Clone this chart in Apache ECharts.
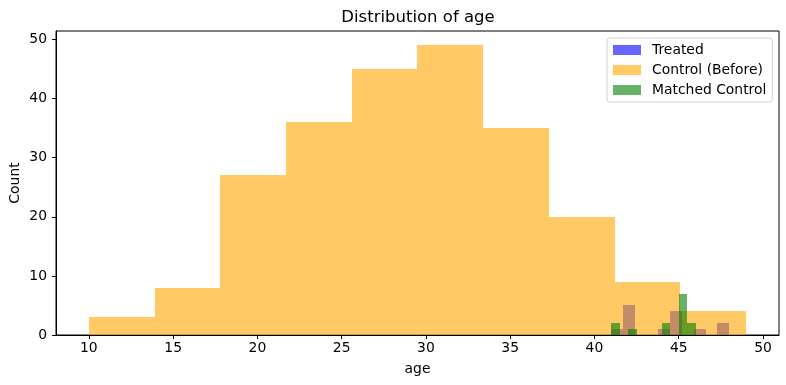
<!DOCTYPE html>
<html>
<head>
<meta charset="utf-8">
<script src="https://cdn.jsdelivr.net/npm/echarts@6/dist/echarts.min.js"></script>
<style>html,body{margin:0;padding:0;background:#fff}#c{width:786px;height:385px}</style>
</head>
<body>
<div id="c"></div>
<script>
const controlEdges = [10, 13.9, 17.8, 21.7, 25.6, 29.5, 33.4, 37.3, 41.2, 45.1, 49];
const controlCounts = [3, 8, 27, 36, 45, 49, 35, 20, 9, 4];
const treatedEdges = [41, 41.7, 42.4, 43.1, 43.8, 44.5, 45.2, 45.9, 46.6, 47.3, 48];
const treatedCounts = [1, 5, 0, 0, 1, 4, 0, 1, 0, 2];
const matchedEdges = [41, 41.5, 42, 42.5, 43, 43.5, 44, 44.5, 45, 45.5, 46];
const matchedCounts = [2, 0, 1, 0, 0, 0, 2, 0, 7, 2];
const xTicks = [10, 15, 20, 25, 30, 35, 40, 45, 50];
const yTicks = [0, 10, 20, 30, 40, 50];
const seriesNames = ['Treated', 'Control (Before)', 'Matched Control'];

function toBins(edges, counts) {
  return counts.map((c, i) => [edges[i], edges[i + 1], c]);
}
function renderItem(params, api) {
  const p0 = api.coord([api.value(0), api.value(2)]);
  const p1 = api.coord([api.value(1), 0]);
  const x0 = Math.round(p0[0]), x1 = Math.round(p1[0]);
  const y0 = Math.round(p0[1]), y1 = Math.round(p1[1]);
  return {
    type: 'rect',
    shape: { x: x0, y: y0, width: x1 - x0, height: y1 - y0 },
    style: { fill: api.visual('color') }
  };
}
const font = 'DejaVu Sans';
const chart = echarts.init(document.getElementById('c'));
chart.setOption({
  animation: false,
  backgroundColor: '#fff',
  title: {
    text: 'Distribution of age', left: 413, top: 4, textAlign: 'center',
    textStyle: { fontFamily: font, fontSize: 16.5, fontWeight: 'normal', color: '#000' }
  },
  grid: { left: 56, right: 7, top: 31, bottom: 50, show: true, borderColor: '#000', borderWidth: 1,
          backgroundColor: 'transparent', containLabel: false, outerBoundsMode: 'none' },
  legend: {
    orient: 'vertical', left: 607, top: 38,
    padding: [5, 6, 5, 6], itemGap: 6, itemWidth: 28, itemHeight: 10,
    backgroundColor: 'rgba(255,255,255,0.8)', borderColor: '#d0d0d0', borderWidth: 1, borderRadius: 3,
    textStyle: { fontFamily: font, fontSize: 13.9, color: '#000', padding: [0, 0, 0, 6] },
    data: seriesNames.map(n => ({ name: n, icon: 'rect' }))
  },
  xAxis: {
    type: 'value', min: 8.05, max: 50.95,
    name: 'age', nameLocation: 'middle', nameGap: 27, nameMoveOverlap: false,
    nameTextStyle: { fontFamily: font, fontSize: 13.9, color: '#000' },
    splitLine: { show: false },
    axisLine: { lineStyle: { color: '#000', width: 1 } },
    axisTick: { length: 4, lineStyle: { color: '#000' }, customValues: xTicks },
    axisLabel: { customValues: xTicks, margin: 6, fontFamily: font, fontSize: 13.9, color: '#000' }
  },
  yAxis: {
    type: 'value', min: 0, max: 51.45,
    name: 'Count', nameLocation: 'middle', nameGap: 34, nameMoveOverlap: false,
    nameTextStyle: { fontFamily: font, fontSize: 13.9, color: '#000' },
    splitLine: { show: false },
    axisLine: { show: true, lineStyle: { color: '#000', width: 1 } },
    axisTick: { show: true, length: 4, lineStyle: { color: '#000' }, customValues: yTicks },
    axisLabel: { customValues: yTicks, margin: 9, fontFamily: font, fontSize: 13.9, color: '#000' }
  },
  series: [
    { name: seriesNames[0], type: 'custom', renderItem, itemStyle: { color: 'rgba(0,0,255,0.6)' },
      encode: { x: [0, 1], y: 2 }, data: toBins(treatedEdges, treatedCounts) },
    { name: seriesNames[1], type: 'custom', renderItem, itemStyle: { color: 'rgba(255,165,0,0.6)' },
      encode: { x: [0, 1], y: 2 }, data: toBins(controlEdges, controlCounts) },
    { name: seriesNames[2], type: 'custom', renderItem, itemStyle: { color: 'rgba(0,128,0,0.6)' },
      encode: { x: [0, 1], y: 2 }, data: toBins(matchedEdges, matchedCounts) }
  ]
});
</script>
</body>
</html>
